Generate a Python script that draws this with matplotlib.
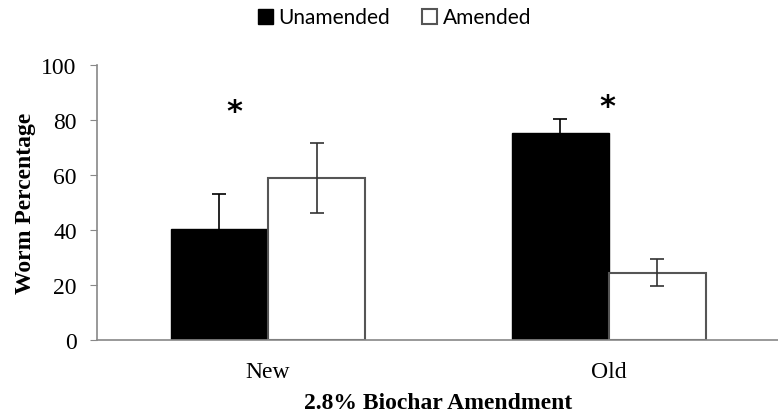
import numpy as np
import matplotlib.pyplot as plt

groups = ['New', 'Old']
unamended = [40.4, 75.2]
unamended_err = [12.7, 5.0]
amended = [58.9, 24.4]
amended_err = [12.7, 4.9]
star_heights = [83, 85]

fig = plt.figure(figsize=(7.78, 4.14), dpi=100)
ax = fig.add_axes([0.1253, 0.1763, 0.8747, 0.6643])

x = np.arange(len(groups))
w = 0.285
ax.bar(x - w / 2, unamended, w, color='black', edgecolor='black', linewidth=1.0,
       yerr=unamended_err, error_kw=dict(ecolor='black', elinewidth=1.2, capsize=5, capthick=1.2),
       label='Unamended')
ax.bar(x + w / 2, amended, w, color='white', edgecolor='#555555', linewidth=1.5,
       yerr=amended_err, error_kw=dict(ecolor='#333333', elinewidth=1.2, capsize=5, capthick=1.2),
       label='Amended')

# significance markers
ax.text(x[0] - 0.1, star_heights[0], '*', ha='center', va='center', fontsize=22, fontweight='bold')
ax.text(x[1] - 0.005, star_heights[1], '*', ha='center', va='center', fontsize=22, fontweight='bold')

ax.set_xlim(-0.5, 1.496)
ax.set_ylim(0, 100)
ax.set_yticks(range(0, 101, 20))
ax.set_xticks(x)
ax.set_xticklabels(groups, fontfamily='Liberation Serif', fontsize=17)
for t in ax.get_yticklabels():
    t.set_fontfamily('Liberation Serif')
    t.set_fontsize(17)

ax.spines['top'].set_visible(False)
ax.spines['right'].set_visible(False)
for s in ['left', 'bottom']:
    ax.spines[s].set_color('#888888')
    ax.spines[s].set_linewidth(1.2)
ax.tick_params(axis='y', direction='out', length=5, color='#888888', pad=10)
ax.tick_params(axis='x', length=0, pad=15)

ax.set_ylabel('Worm Percentage', fontfamily='Liberation Serif', fontweight='bold', fontsize=17, labelpad=4)
ax.set_xlabel('2.8% Biochar Amendment', fontfamily='Liberation Serif', fontweight='bold', fontsize=17, labelpad=7)

fig.legend(loc='upper center', bbox_to_anchor=(0.507, 1.025), ncol=2, frameon=False,
           prop={'family': 'Lato', 'size': 15}, handlelength=0.75, handleheight=0.75,
           handletextpad=0.25, columnspacing=1.5)

fig.savefig('out.png', dpi=100)
